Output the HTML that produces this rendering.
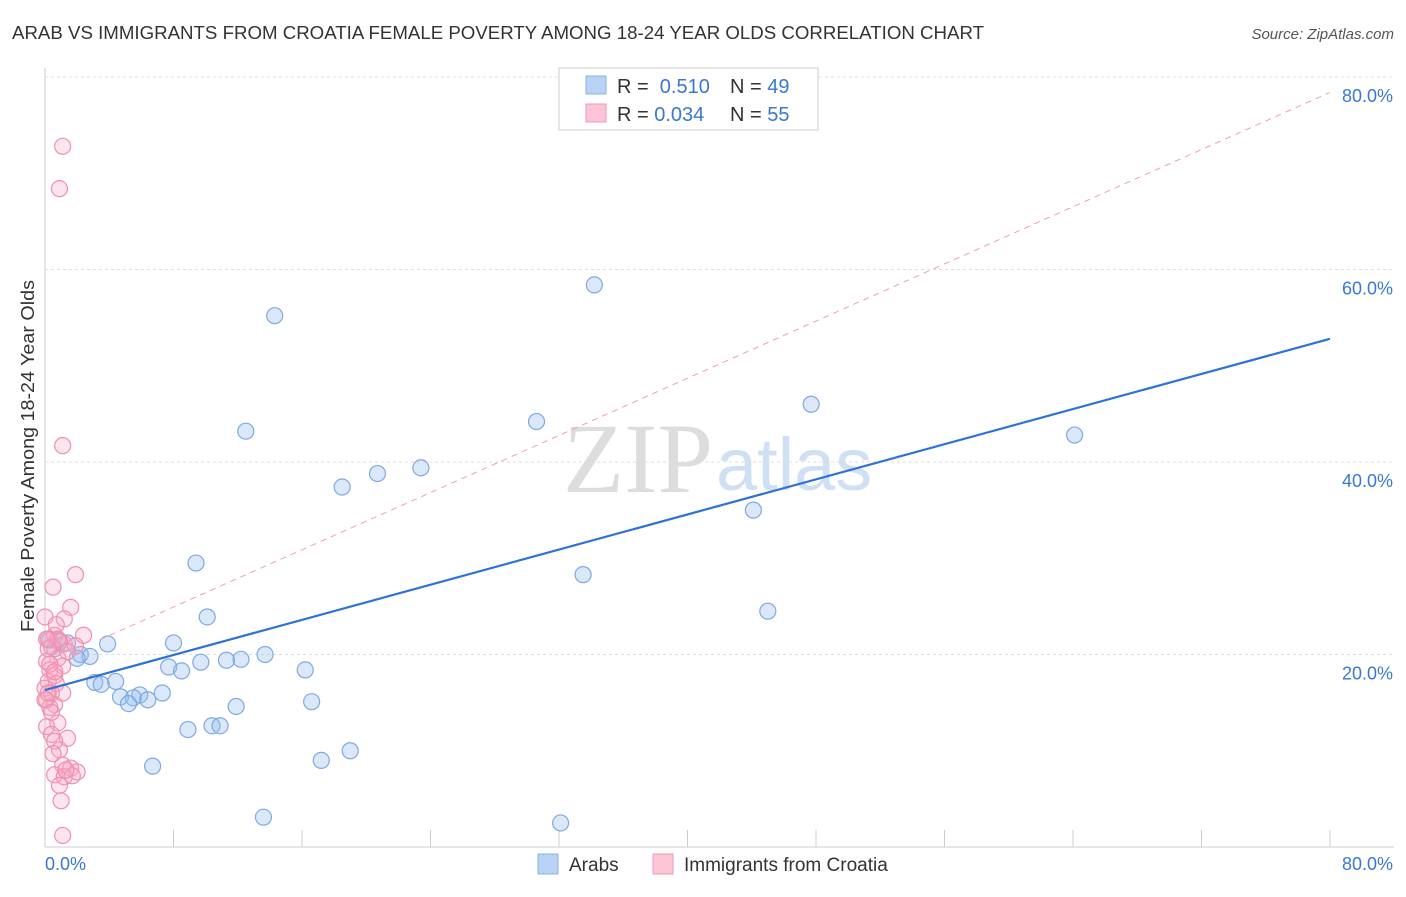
<!DOCTYPE html>
<html><head><meta charset="utf-8"><style>
body{margin:0;background:#fff;font-family:"Liberation Sans",sans-serif}
</style></head><body>
<svg width="1406" height="892" xmlns="http://www.w3.org/2000/svg" font-family="Liberation Sans, sans-serif">
<text x="12" y="39" font-size="18.5" fill="#333" textLength="972" lengthAdjust="spacingAndGlyphs">ARAB VS IMMIGRANTS FROM CROATIA FEMALE POVERTY AMONG 18-24 YEAR OLDS CORRELATION CHART</text>
<text x="1394" y="39" font-size="15" fill="#555" font-style="italic" text-anchor="end">Source: ZipAtlas.com</text>
<text x="34" y="456" font-size="18" fill="#333" transform="rotate(-90 34 456)" text-anchor="middle" textLength="352" lengthAdjust="spacingAndGlyphs">Female Poverty Among 18-24 Year Olds</text>
<text x="713" y="492" font-size="100" fill="#ddd" text-anchor="end" font-family="Liberation Serif, serif">ZIP</text>
<text x="716" y="490" font-size="74" fill="#cfe0f4">atlas</text>
<g id="grid"></g><g id="pts"></g><g id="lines"></g>
<g>
<rect x="559" y="68" width="259" height="62" fill="#fff" stroke="#ccc"/>
<rect x="586" y="76" width="20" height="18" fill="#b8d3f5" stroke="#8ab0e0"/>
<rect x="586" y="104" width="20" height="18" fill="#fbc5d6" stroke="#f09ab6"/>
<text x="617" y="93" font-size="20" fill="#333">R = <tspan fill="#3a78d0">&#160;0.510</tspan><tspan x="730">N = </tspan><tspan fill="#3a78d0">49</tspan></text>
<text x="617" y="121" font-size="20" fill="#333">R = <tspan fill="#3a78d0">0.034</tspan><tspan x="730">N = </tspan><tspan fill="#3a78d0">55</tspan></text>
</g>
<g>
<rect x="538" y="854" width="20" height="20" fill="#b8d3f5" stroke="#8ab0e0"/>
<text x="569" y="871" font-size="19" fill="#333">Arabs</text>
<rect x="653" y="854" width="20" height="20" fill="#fbc5d6" stroke="#f09ab6"/>
<text x="684" y="871" font-size="19" fill="#333">Immigrants from Croatia</text>
</g>
</svg>
<script>
const yTicks=[20,40,60,80];
const xTickLabels=["0.0%","80.0%"];
const arabsX=[34.2,14.3,47.7,30.6,64.1,12.5,23.4,20.7,18.5,44.1,33.5,9.4,45.0,10.1,3.9,8.0,13.7,12.2,11.3,9.7,7.7,8.5,16.2,0.3,0.9,1.4,2.2,2.8,2.0,0.6,3.1,3.5,4.4,4.7,5.9,5.5,6.4,7.3,5.2,16.6,11.9,10.4,10.9,8.9,19.0,17.2,6.7,13.6,32.1];
const arabsY=[58.4,55.2,46.0,44.2,42.8,43.2,39.4,38.8,37.4,35.0,28.3,29.5,24.5,23.9,21.1,21.2,20.0,19.5,19.4,19.2,18.7,18.3,18.4,21.5,21.3,21.2,20.0,19.8,19.6,20.6,17.1,16.9,17.2,15.6,15.8,15.5,15.3,16.0,14.9,15.1,14.6,12.6,12.6,12.2,10.0,9.0,8.4,3.1,2.5];
const croX=[1.1,0.9,1.1,1.9,0.5,1.6,1.2,0,2.4,0.6,0.2,0.9,1.2,1.9,0.4,1.4,0.8,0.1,1.1,0.3,0.6,0.2,0.7,0,0.4,0.1,0.6,0.3,0.8,0.1,0.4,1.4,0.6,0.9,0.5,1.1,1.6,2.0,0.6,1.2,1.7,0.9,1.0,1.1,0,0.3,0.7,0.2,0.4,1.3,0.8,0.2,0.6,0.1,1.1];
const croY=[72.8,68.4,41.7,28.3,27.0,24.9,23.7,23.9,22.0,22.0,21.6,21.4,21.1,20.9,20.8,20.3,19.6,19.3,18.8,18.4,17.8,17.2,17.0,16.5,16.0,15.3,14.8,14.5,12.9,12.5,11.7,11.3,11.0,10.1,9.7,8.5,8.2,7.8,7.5,7.3,7.4,6.4,4.8,1.2,15.3,19.0,23.1,16.0,14.0,8.0,21.6,20.6,18.2,21.6,16.0];
const blueLine=[16.3,52.8];
const pinkLine=[19.0,78.4];
const X=v=>45+v*16.0625, Y=v=>847-v*9.625;
const NS="http://www.w3.org/2000/svg";
function mk(t,a,p){const e=document.createElementNS(NS,t);for(const k in a)e.setAttribute(k,a[k]);p.appendChild(e);return e;}
const g=document.getElementById('grid');
mk('line',{x1:45,y1:68,x2:45,y2:847,stroke:'#ccc'},g);
mk('line',{x1:45,y1:847,x2:1394,y2:847,stroke:'#ccc'},g);
for(let i=1;i<=10;i++){const t=mk('line',{x1:X(i*8),y1:830,x2:X(i*8),y2:847,stroke:'#ccc'},g);

}
yTicks.forEach(v=>{const l=mk('line',{x1:45,y1:Y(v),x2:1394,y2:Y(v),stroke:'#ddd','stroke-dasharray':'3,3'},g);


const t=mk('text',{x:1393,y:Y(v)+25,'font-size':18,fill:'#3a78d0','text-anchor':'end'},g);t.textContent=v.toFixed(1)+'%';

});
[[0,'start',45],[1,'end',1393]].forEach(([i,a,x])=>{const t=mk('text',{x:x,y:870,'font-size':18,fill:'#3a78d0','text-anchor':a},g);t.textContent=xTickLabels[i];

});
const p=document.getElementById('pts');
arabsX.forEach((v,i)=>{const c=mk('circle',{cx:X(v),cy:Y(arabsY[i]),r:8,fill:'rgba(150,190,240,0.35)',stroke:'#7fa9df','stroke-width':1.2},p);

});
croX.forEach((v,i)=>{const c=mk('circle',{cx:X(v),cy:Y(croY[i]),r:8,fill:'rgba(248,170,195,0.3)',stroke:'#f08fb0','stroke-width':1.2},p);

});
const L=document.getElementById('lines');
const bl=mk('line',{x1:X(0),y1:Y(blueLine[0]),x2:X(80),y2:Y(blueLine[1]),stroke:'#2f72d6','stroke-width':2.2},L);


const x0=3.4;
const pl=mk('line',{x1:X(x0),y1:Y(pinkLine[0]+(pinkLine[1]-pinkLine[0])*x0/80),x2:X(80),y2:Y(pinkLine[1]),stroke:'#eaa0b8','stroke-width':1,'stroke-dasharray':'6,5'},L);


</script>
</body></html>
